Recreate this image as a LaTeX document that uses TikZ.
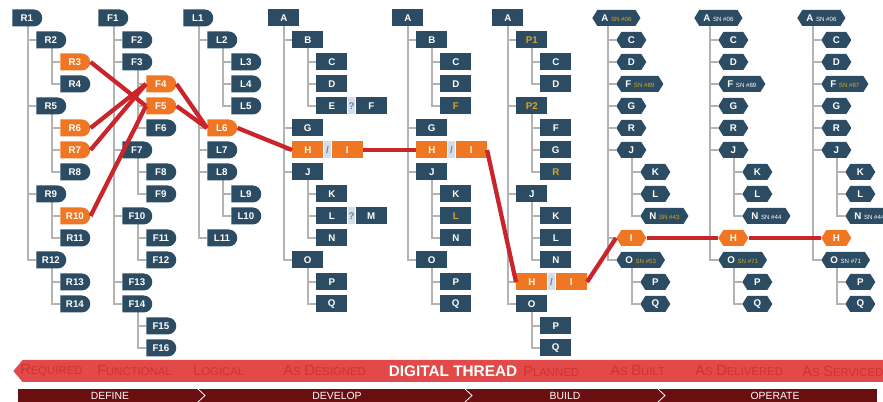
\documentclass[tikz,border=0pt]{standalone}
\usepackage{fontspec}
\setmainfont{Liberation Sans}
\usepackage{xcolor}
\usepackage{tikz}
\usetikzlibrary{positioning,calc,backgrounds,shapes.misc,shapes.symbols}
\definecolor{nodeblue}{HTML}{2B4C63}
\definecolor{pathorange}{HTML}{EF7622}
\definecolor{branchgrey}{HTML}{B3B3B3}
\definecolor{threadred}{HTML}{C9262C}
\definecolor{revgold}{HTML}{D8A526}
\definecolor{bandred}{HTML}{E24A4A}
\definecolor{stagered}{HTML}{CC3434}
\definecolor{phasered}{HTML}{6A0F10}
\definecolor{gapblue}{HTML}{D3DEE8}
\definecolor{markblue}{HTML}{5F86AD}

\tikzset{
    basebox/.style={inner sep=0pt, text=white, font=\fontsize{7.3}{8}\selectfont\bfseries},
    logicbox/.style={basebox, rounded rectangle, rounded rectangle left arc=none,
        minimum width=22.5pt, minimum height=12.75pt},
    designbox/.style={basebox, rectangle, minimum width=23.25pt, minimum height=12.75pt},
    unitbox/.style={basebox, signal, signal to=west and east, signal pointer angle=116,
        minimum width=22.5pt, minimum height=12pt, inner xsep=3pt},
    item/.style={fill=nodeblue},
    onpath/.style={fill=pathorange},
    revised/.style={fill=nodeblue, text=revgold},
    gapbox/.style={inner sep=0pt, fill=gapblue, text=markblue, minimum width=5.6pt,
        minimum height=12.75pt, font=\fontsize{7.3}{8}\selectfont\bfseries},
    branch/.style={draw=branchgrey, line width=1.1pt},
    threadline/.style={draw=threadred, line width=3.2pt},
    stage/.style={inner sep=0pt, text=stagered, anchor=west},
    phase/.style={inner sep=0pt, text=white, font=\fontsize{7.8}{9}\selectfont}
}

% small serial number behind a part name
\newcommand\serialno[2]{\hspace{2pt}{\fontsize{4.6}{5}\selectfont\mdseries\color{#1}#2}}
% small caps look for the stage names
\newcommand\stagename[2]{{\fontsize{11}{12}\selectfont #1}{\fontsize{8.5}{10}\selectfont #2}}
% one tree: prefix, box style, left x, entries name/level/row/parent/style/extra
\newcommand\branchtree[4]{%
    \foreach \nm/\lv/\rw/\up/\kind/\extra in {#4} {
        \node[#2, \kind, anchor=west] (#1-\nm) at ({#3+24*\lv},{18+22*\rw}) {\nm\extra};
        \ifnum\lv>0
            \begin{scope}[on background layer]
                \draw[branch] ($(#1-\up.west)+(16,0)$) |- (#1-\nm.west);
            \end{scope}
        \fi
    }%
}

\begin{document}
\begin{tikzpicture}[x=0.75pt, y=-0.75pt]
\useasboundingbox (0,0) rectangle (883,402);

% required
\branchtree{rq}{logicbox}{12}{
    R1/0/0/R1/item/{}, R2/1/1/R1/item/{}, R3/2/2/R2/onpath/{}, R4/2/3/R2/item/{},
    R5/1/4/R1/item/{}, R6/2/5/R5/onpath/{}, R7/2/6/R5/onpath/{}, R8/2/7/R5/item/{},
    R9/1/8/R1/item/{}, R10/2/9/R9/onpath/{}, R11/2/10/R9/item/{},
    R12/1/11/R1/item/{}, R13/2/12/R12/item/{}, R14/2/13/R12/item/{}}

% functional
\branchtree{fn}{logicbox}{98}{
    F1/0/0/F1/item/{}, F2/1/1/F1/item/{}, F3/1/2/F1/item/{}, F4/2/3/F3/onpath/{},
    F5/2/4/F3/onpath/{}, F6/2/5/F3/item/{}, F7/1/6/F1/item/{}, F8/2/7/F7/item/{},
    F9/2/8/F7/item/{}, F10/1/9/F1/item/{}, F11/2/10/F10/item/{}, F12/2/11/F10/item/{},
    F13/1/12/F1/item/{}, F14/1/13/F1/item/{}, F15/2/14/F14/item/{}, F16/2/15/F14/item/{}}

% logical
\branchtree{lg}{logicbox}{183}{
    L1/0/0/L1/item/{}, L2/1/1/L1/item/{}, L3/2/2/L2/item/{}, L4/2/3/L2/item/{},
    L5/2/4/L2/item/{}, L6/1/5/L1/onpath/{}, L7/1/6/L1/item/{}, L8/1/7/L1/item/{},
    L9/2/8/L8/item/{}, L10/2/9/L8/item/{}, L11/1/10/L1/item/{}}

% as designed
\branchtree{ds}{designbox}{268}{
    A/0/0/A/item/{}, B/1/1/A/item/{}, C/2/2/B/item/{}, D/2/3/B/item/{}, E/2/4/B/item/{},
    G/1/5/A/item/{}, H/1/6/A/onpath/{}, J/1/7/A/item/{}, K/2/8/J/item/{},
    L/2/9/J/item/{}, N/2/10/J/item/{}, O/1/11/A/item/{}, P/2/12/O/item/{}, Q/2/13/O/item/{}}
\node[gapbox, right=0pt of ds-E] (ds-q1) {?};
\node[designbox, item, right=0pt of ds-q1] (ds-F) {F};
\node[gapbox, right=0pt of ds-L] (ds-q2) {?};
\node[designbox, item, right=0pt of ds-q2] (ds-M) {M};
\node[gapbox, right=0pt of ds-H] (ds-sl) {/};
\node[designbox, onpath, right=0pt of ds-sl] (ds-I) {I};

% as designed, revised
\branchtree{dt}{designbox}{392}{
    A/0/0/A/item/{}, B/1/1/A/item/{}, C/2/2/B/item/{}, D/2/3/B/item/{}, F/2/4/B/revised/{},
    G/1/5/A/item/{}, H/1/6/A/onpath/{}, J/1/7/A/item/{}, K/2/8/J/item/{},
    L/2/9/J/revised/{}, N/2/10/J/item/{}, O/1/11/A/item/{}, P/2/12/O/item/{}, Q/2/13/O/item/{}}
\node[gapbox, right=0pt of dt-H] (dt-sl) {/};
\node[designbox, onpath, right=0pt of dt-sl] (dt-I) {I};

% planned
\branchtree{pl}{designbox}{492}{
    A/0/0/A/item/{}, P1/1/1/A/revised/{}, C/2/2/P1/item/{}, D/2/3/P1/item/{},
    P2/1/4/A/revised/{}, F/2/5/P2/item/{}, G/2/6/P2/item/{}, R/2/7/P2/revised/{},
    J/1/8/A/item/{}, K/2/9/J/item/{}, L/2/10/J/item/{}, N/2/11/J/item/{},
    H/1/12/A/onpath/{}, O/1/13/A/item/{}, P/2/14/O/item/{}, Q/2/15/O/item/{}}
\node[gapbox, right=0pt of pl-H] (pl-sl) {/};
\node[designbox, onpath, right=0pt of pl-sl] (pl-I) {I};

% as built
\branchtree{bt}{unitbox}{592}{
    A/0/0/A/item/\serialno{revgold}{SN \#06}, C/1/1/A/item/{}, D/1/2/A/item/{},
    F/1/3/A/item/\serialno{revgold}{SN \#89}, G/1/4/A/item/{}, R/1/5/A/item/{},
    J/1/6/A/item/{}, K/2/7/J/item/{}, L/2/8/J/item/{},
    N/2/9/J/item/\serialno{revgold}{SN \#43}, I/1/10/A/onpath/{},
    O/1/11/A/item/\serialno{revgold}{SN \#53}, P/2/12/O/item/{}, Q/2/13/O/item/{}}

% as delivered
\branchtree{dl}{unitbox}{694}{
    A/0/0/A/item/\serialno{white}{SN \#06}, C/1/1/A/item/{}, D/1/2/A/item/{},
    F/1/3/A/item/\serialno{white}{SN \#89}, G/1/4/A/item/{}, R/1/5/A/item/{},
    J/1/6/A/item/{}, K/2/7/J/item/{}, L/2/8/J/item/{},
    N/2/9/J/item/\serialno{white}{SN \#44}, H/1/10/A/onpath/{},
    O/1/11/A/item/\serialno{revgold}{SN \#71}, P/2/12/O/item/{}, Q/2/13/O/item/{}}

% as serviced
\branchtree{sv}{unitbox}{797}{
    A/0/0/A/item/\serialno{white}{SN \#06}, C/1/1/A/item/{}, D/1/2/A/item/{},
    F/1/3/A/item/\serialno{revgold}{SN \#87}, G/1/4/A/item/{}, R/1/5/A/item/{},
    J/1/6/A/item/{}, K/2/7/J/item/{}, L/2/8/J/item/{},
    N/2/9/J/item/\serialno{white}{SN \#44}, H/1/10/A/onpath/{},
    O/1/11/A/item/\serialno{white}{SN \#71}, P/2/12/O/item/{}, Q/2/13/O/item/{}}

% the thread
\draw[threadline] (rq-R3.east) -- (fn-F5.west);
\draw[threadline] (rq-R6.east) -- (fn-F4.west);
\draw[threadline] (rq-R7.east) -- (fn-F4.west);
\draw[threadline] (rq-R10.east) -- (fn-F5.west);
\draw[threadline] (fn-F4.east) -- (lg-L6.west);
\draw[threadline] (fn-F5.east) -- (lg-L6.west);
\draw[threadline] (lg-L6.east) -- (ds-H.west);
\draw[threadline] (ds-I.east) -- (dt-H.west);
\draw[threadline] (dt-I.east) -- (pl-H.west);
\draw[threadline] (pl-I.east) -- (bt-I.west);
\draw[threadline] (bt-I.east) -- (dl-H.west);
\draw[threadline] (dl-H.east) -- (sv-H.west);

% band
\node[
    signal,
    signal to=west,
    signal pointer angle=100,
    fill=bandred,
    inner sep=0pt,
    minimum width=652.5pt,
    minimum height=16.5pt,
    anchor=west
] (band) at (13,371) {};
\node[stage] (st-req) at (20,371) {\stagename{R}{EQUIRED}};
\node[stage] (st-fun) at (97,371) {\stagename{F}{UNCTIONAL}};
\node[stage] (st-log) at (193,371) {\stagename{L}{OGICAL}};
\node[stage] (st-des) at (283,371) {\stagename{A}{S} \stagename{D}{ESIGNED}};
\node[stage] (st-pla) at (523,371) {\stagename{P}{LANNED}};
\node[stage] (st-bui) at (610,371) {\stagename{A}{S} \stagename{B}{UILT}};
\node[stage] (st-del) at (695,371) {\stagename{A}{S} \stagename{D}{ELIVERED}};
\node[stage] (st-ser) at (802,371) {\stagename{A}{S} \stagename{S}{ERVICED}};
\node[inner sep=0pt, text=white, font=\fontsize{11.5}{12}\selectfont\bfseries] (thread) at (453,371) {DIGITAL THREAD};

% phases
\node[fill=phasered, inner sep=0pt, minimum width=644.25pt, minimum height=9.75pt, anchor=north west] (phases) at (18,389) {};
\draw[white, line width=0.6pt] (198,389) -- (205,395.5) -- (198,402);
\draw[white, line width=0.6pt] (465,389) -- (472,395.5) -- (465,402);
\draw[white, line width=0.6pt] (658,389) -- (665,395.5) -- (658,402);
\node[phase] (ph-def) at (110,395.5) {DEFINE};
\node[phase] (ph-dev) at (337,395.5) {DEVELOP};
\node[phase] (ph-bui) at (565,395.5) {BUILD};
\node[phase] (ph-ope) at (775,395.5) {OPERATE};
\end{tikzpicture}
\end{document}
